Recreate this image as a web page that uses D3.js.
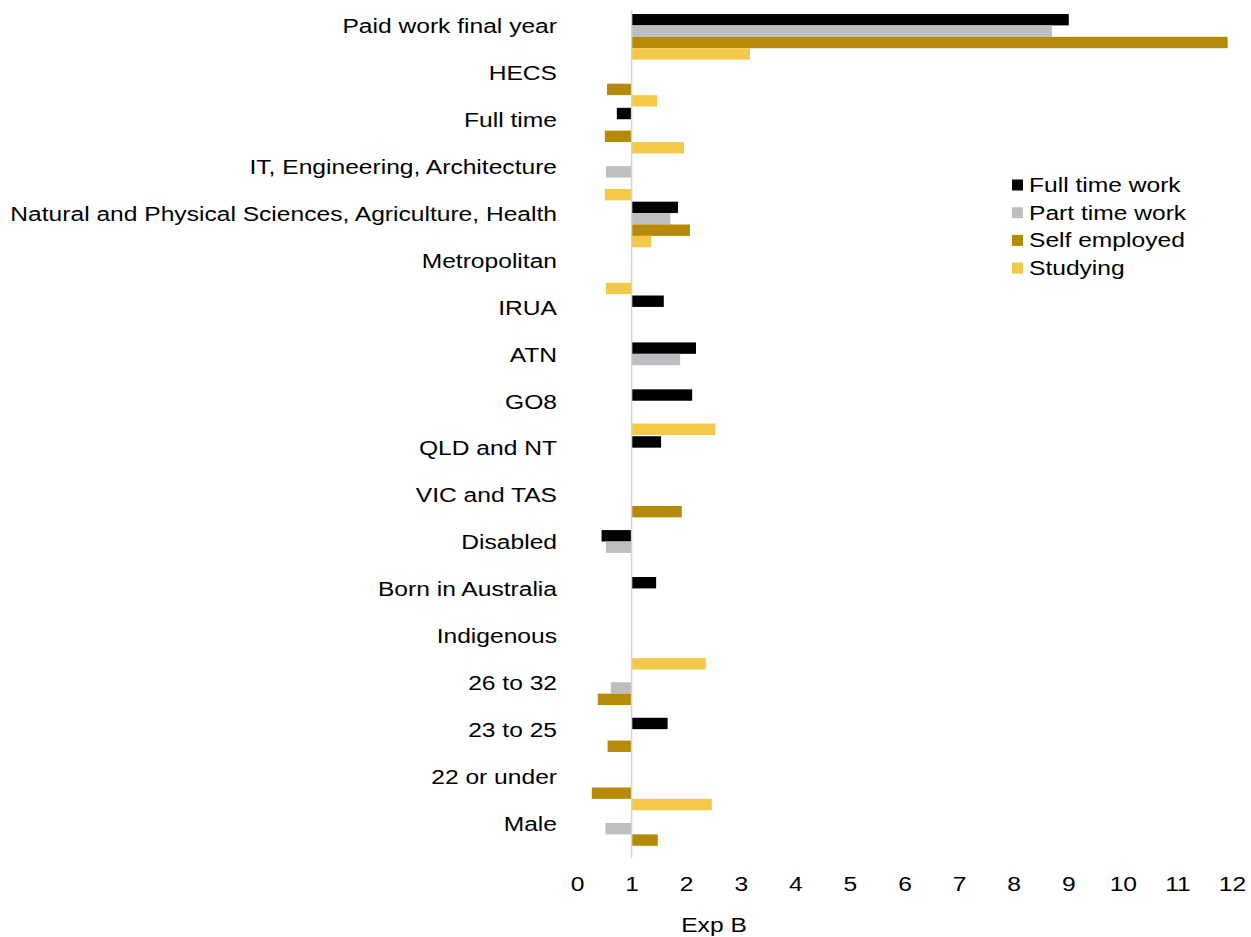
<!DOCTYPE html>
<html>
<head>
<meta charset="utf-8">
<script src="https://cdn.jsdelivr.net/npm/d3@7"></script>
<style>
  body { margin: 0; background: #fff; }
  text { font-family: "Liberation Sans", Arial, sans-serif; }
</style>
</head>
<body>
<div id="chart"></div>
<script>
// categories, top to bottom
const categories = [
  'Paid work final year', 'HECS', 'Full time', 'IT, Engineering, Architecture',
  'Natural and Physical Sciences, Agriculture, Health', 'Metropolitan', 'IRUA',
  'ATN', 'GO8', 'QLD and NT', 'VIC and TAS', 'Disabled', 'Born in Australia',
  'Indigenous', '26 to 32', '23 to 25', '22 or under', 'Male'
];

const seriesNames = ['Full time work', 'Part time work', 'Self employed', 'Studying'];

// Exp B values per series (null = not shown)
const fullTimeWork = [9.01, null, 0.73, null, 1.85, null, 1.59, 2.18, 2.11, 1.54, null, 0.45, 1.45, null, null, 1.66, null, null];
const partTimeWork = [8.70, null, null, 0.53, 1.71, null, null, 1.89, null, null, null, 0.53, null, null, 0.62, null, null, 0.52];
const selfEmployed = [11.92, 0.55, 0.51, null, 2.07, null, null, null, null, null, 1.92, null, null, null, 0.38, 0.56, 0.27, 1.48];
const studying     = [3.17, 1.47, 1.96, 0.51, 1.36, 0.53, null, null, 2.53, null, null, null, null, 2.36, null, null, 2.47, null];

const xTicks = [0, 1, 2, 3, 4, 5, 6, 7, 8, 9, 10, 11, 12];
const colors = ['#000000', '#bdbec2', '#b68a09', '#f4c94a'];

const width = 1251, height = 937;
const seriesValues = [fullTimeWork, partTimeWork, selfEmployed, studying];
const fontSize = '20px';
const stretch = 'scale(1.23,1)'; // the reference text is drawn wide

const svg = d3.select('#chart').append('svg')
  .attr('width', width)
  .attr('height', height);

const x = d3.scaleLinear().domain([0, 12]).range([577, 1232]);
const y = d3.scaleBand().domain(categories).range([13.5, 858]).padding(0);
const ySub = d3.scaleBand().domain(seriesNames).range([0.5, y.bandwidth() - 0.8]).padding(0);

// bars, drawn out from the reference line at 1
const rows = [];
categories.forEach((c, ci) => {
  seriesNames.forEach((s, si) => {
    const v = seriesValues[si][ci];
    if (v != null) rows.push({ cat: c, series: s, si: si, value: v });
  });
});

svg.append('g').selectAll('rect')
  .data(rows)
  .enter()
  .append('rect')
  .attr('x', d => Math.min(x(1), x(d.value)))
  .attr('width', d => Math.abs(x(d.value) - x(1)))
  .attr('y', d => y(d.cat) + ySub(d.series))
  .attr('height', ySub.bandwidth())
  .attr('fill', d => colors[d.si]);

// reference line at 1
svg.append('line')
  .attr('x1', x(1)).attr('x2', x(1))
  .attr('y1', 10).attr('y2', 858)
  .attr('stroke', '#d4d4d4')
  .attr('stroke-width', 1.5);

// category labels
svg.append('g').selectAll('text')
  .data(categories)
  .enter()
  .append('text')
  .attr('transform', d => `translate(557,${y(d) + y.bandwidth() * 0.27}) ${stretch}`)
  .attr('dy', '0.35em')
  .attr('text-anchor', 'end')
  .attr('font-size', fontSize)
  .attr('fill', '#000')
  .text(d => d);

// x axis (labels only)
const xAxis = svg.append('g')
  .attr('transform', 'translate(0,877)')
  .call(d3.axisBottom(x).tickValues(xTicks).tickSize(0).tickPadding(0));
xAxis.select('.domain').remove();
xAxis.selectAll('text')
  .attr('font-family', '"Liberation Sans", Arial, sans-serif')
  .attr('font-size', fontSize)
  .attr('fill', '#000')
  .attr('dy', '0.71em')
  .attr('transform', stretch);

svg.append('text')
  .attr('transform', `translate(714,925) ${stretch}`)
  .attr('dy', '0.35em')
  .attr('text-anchor', 'middle')
  .attr('font-size', fontSize)
  .text('Exp B');

// legend
const legend = svg.append('g').selectAll('g')
  .data(seriesNames)
  .enter()
  .append('g')
  .attr('transform', (d, i) => `translate(1012,${185 + i * 27.7})`);

legend.append('rect')
  .attr('x', 0).attr('y', -5.5)
  .attr('width', 11).attr('height', 11)
  .attr('fill', (d, i) => colors[i]);

legend.append('text')
  .attr('transform', `translate(17,0) ${stretch}`)
  .attr('dy', '0.35em')
  .attr('font-size', fontSize)
  .text(d => d);
</script>
</body>
</html>
